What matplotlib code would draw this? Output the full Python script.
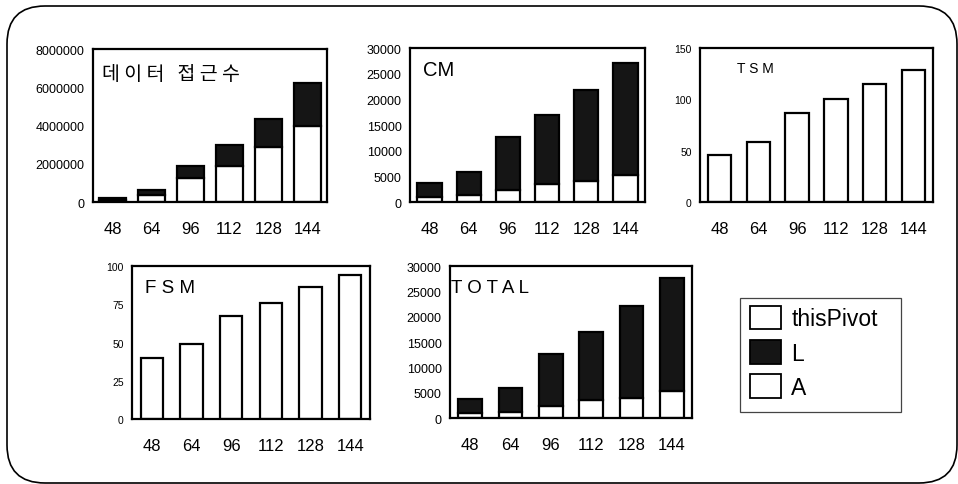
import matplotlib
matplotlib.use("Agg")
import matplotlib.pyplot as plt
from matplotlib.patches import FancyBboxPatch, Patch, Rectangle

plt.rcParams['font.family'] = ['Liberation Sans', 'DejaVu Sans']

categories = ['48', '64', '96', '112', '128', '144']

access_A = [130000, 380000, 1240000, 1900000, 2900000, 4000000]
access_L = [70000, 250000, 660000, 1080000, 1440000, 2200000]

cm_A = [1000, 1300, 2350, 3600, 4100, 5300]
cm_L = [2700, 4600, 10250, 13350, 17750, 21800]

tsm = [46, 58, 87, 100, 115, 129]
fsm = [40, 49, 67, 76, 86, 94]

total_A = [900, 1200, 2300, 3500, 4000, 5250]
total_L = [2800, 4700, 10400, 13500, 18100, 22450]

legend_labels = ['thisPivot', 'L', 'A']

W, H = 958, 485
fig = plt.figure(figsize=(W / 100, H / 100), dpi=100)

# background axes in pixel units for rounded frame
bg = fig.add_axes([0, 0, 1, 1], zorder=-1)
bg.set_xlim(0, W)
bg.set_ylim(H, 0)
bg.axis('off')
bg.add_patch(FancyBboxPatch((7, 7), 950, 477,
                            boxstyle="round,pad=0,rounding_size=38",
                            fc='white', ec='black', lw=1.2))
# legend frame
bg.add_patch(Rectangle((740, 299), 161, 114, fc='white', ec='#444444', lw=0.9))

DARK = '#151515'


def px_axes(l, t, r, b):
    return fig.add_axes([l / W, 1 - b / H, (r - l) / W, (b - t) / H])


def style(ax, ymax, yticks, ysize, title, tsize, tx, ty, tfam=None, tw='normal'):
    ax.set_xlim(-0.5, len(categories) - 0.5)
    ax.set_ylim(0, ymax)
    ax.set_yticks(yticks)
    ax.set_yticklabels([str(v) for v in yticks], fontsize=ysize)
    ax.set_xticks(range(len(categories)))
    ax.set_xticklabels(categories, fontsize=12)
    ax.tick_params(axis='x', length=0, pad=14)
    ax.tick_params(axis='y', length=0, pad=6)
    for s in ax.spines.values():
        s.set_linewidth(1.6)
    kw = {}
    if tfam:
        kw['family'] = tfam
    ax.text(tx, ty, title, transform=ax.transAxes, fontsize=tsize,
            ha='left', va='center', fontweight=tw, **kw)


x = range(len(categories))
bar_kw = dict(edgecolor='black', linewidth=1.6)

# 1: data access count
ax1 = px_axes(93, 50, 327, 203)
ax1.bar(x, access_A, width=0.7, color='white', **bar_kw)
ax1.bar(x, access_L, width=0.7, bottom=access_A, color=DARK, **bar_kw)
style(ax1, 8000000, [0, 2000000, 4000000, 6000000, 8000000], 9,
      '데 이 터   접 근 수', 14, 0.04, 0.84,
      tfam=['Noto Sans CJK KR', 'DejaVu Sans'], tw='medium')

# 2: CM
ax2 = px_axes(410, 49, 645, 203)
ax2.bar(x, cm_A, width=0.62, color='white', **bar_kw)
ax2.bar(x, cm_L, width=0.62, bottom=cm_A, color=DARK, **bar_kw)
style(ax2, 30000, [0, 5000, 10000, 15000, 20000, 25000, 30000], 9,
      'CM', 14.5, 0.055, 0.86)

# 3: TSM
ax3 = px_axes(700, 49, 933, 203)
ax3.bar(x, tsm, width=0.6, color='white', **bar_kw)
style(ax3, 150, [0, 50, 100, 150], 7.5,
      'T S M', 10, 0.16, 0.87)

# 4: FSM
ax4 = px_axes(132, 267, 370, 420)
ax4.bar(x, fsm, width=0.56, color='white', **bar_kw)
style(ax4, 100, [0, 25, 50, 75, 100], 7.5,
      'F S M', 13.5, 0.055, 0.86)

# 5: TOTAL
ax5 = px_axes(450, 267, 692, 419)
ax5.bar(x, total_A, width=0.58, color='white', **bar_kw)
ax5.bar(x, total_L, width=0.58, bottom=total_A, color=DARK, **bar_kw)
style(ax5, 30000, [0, 5000, 10000, 15000, 20000, 25000, 30000], 9,
      'T O T A L', 13.5, 0.005, 0.86)

handles = [Patch(fc='white', ec='black', lw=1.3),
           Patch(fc=DARK, ec='black', lw=1.3),
           Patch(fc='white', ec='black', lw=1.3)]
leg = fig.legend(handles, legend_labels, loc='upper left',
                 bbox_to_anchor=(750 / W, 1 - 307 / H),
                 fontsize=16.5, handlelength=1.35, handleheight=1.2,
                 handletextpad=0.45, labelspacing=0.42, borderpad=0,
                 borderaxespad=0, frameon=False)

fig.savefig('out.png', dpi=100)
